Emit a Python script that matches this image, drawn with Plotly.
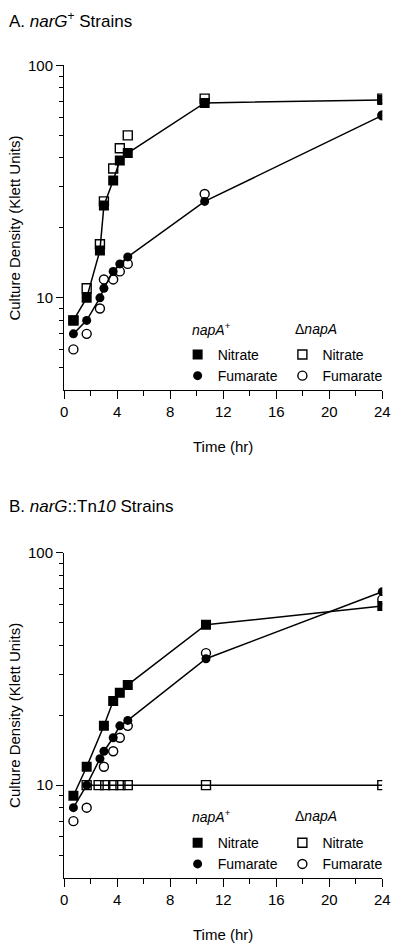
import plotly.graph_objects as go

# ---------------- data ----------------
# Panel A: narG+ strains
a_time = [0.7, 1.7, 2.7, 3.0, 3.7, 4.2, 4.8, 10.6, 24]
a_napA_nitrate = [8, 10, 16, 25, 32, 39, 42, 69, 71]
a_napA_fumarate = [7, 8, 10, 11, 13, 14, 15, 26, 61]
a_dnapA_nitrate = [8, 11, 17, 26, 36, 44, 50, 72, 72]
a_dnapA_fumarate = [6, 7, 9, 12, 12, 13, 14, 28, 61]

# Panel B: narG::Tn10 strains
b_nit_time = [0.7, 1.7, 3.0, 3.7, 4.2, 4.8, 10.7, 24]
b_napA_nitrate = [9, 12, 18, 23, 25, 27, 49, 59]
b_fum_time = [0.7, 1.7, 2.7, 3.0, 3.7, 4.2, 4.8, 10.7, 24]
b_napA_fumarate = [8, 10, 13, 14, 16, 18, 19, 35, 68]
b_dnit_time = [1.7, 2.6, 3.1, 3.7, 4.25, 4.8, 10.7, 24]
b_dnapA_nitrate = [10, 10, 10, 10, 10, 10, 10, 10]
b_dfum_time = [0.7, 1.7, 3.0, 3.7, 4.2, 4.8, 10.7, 24]
b_dnapA_fumarate = [7, 8, 12, 14, 16, 18, 37, 63]

x_ticks = [0, 4, 8, 12, 16, 20, 24]
y_ticks = [10, 100]
y_minor = [5, 6, 7, 8, 9, 20, 30, 40, 50, 60, 70, 80, 90]

# ---------------- layout helpers ----------------
W, H = 400, 945
FONT = "Liberation Sans, Arial, Helvetica, sans-serif"


def px(x):
    return x / W


def py(y):
    return 1 - y / H


fig = go.Figure()


def add_panel(xa, ya, lines, opens, filleds, leg_plus, leg_delta):
    for (xs, ys) in lines:
        fig.add_trace(go.Scatter(x=xs, y=ys, mode="lines", xaxis=xa, yaxis=ya,
                                 line=dict(color="black", width=1.5),
                                 showlegend=False, hoverinfo="skip"))
    for (name, xs, ys, sym) in opens:
        fig.add_trace(go.Scatter(x=xs, y=ys, mode="markers", name=name, xaxis=xa, yaxis=ya,
                                 marker=dict(symbol=sym, size=9, color="black",
                                             line=dict(color="black", width=1.4)),
                                 legend=leg_delta, showlegend=True))
    for (name, xs, ys, sym) in filleds:
        fig.add_trace(go.Scatter(x=xs, y=ys, mode="markers", name=name, xaxis=xa, yaxis=ya,
                                 marker=dict(symbol=sym, size=10 if sym == "square" else 9,
                                             color="black", line=dict(width=0)),
                                 legend=leg_plus, showlegend=True))


add_panel("x", "y",
          lines=[(a_time, a_napA_nitrate), (a_time, a_napA_fumarate)],
          opens=[("Nitrate", a_time, a_dnapA_nitrate, "square-open"),
                 ("Fumarate", a_time, a_dnapA_fumarate, "circle-open")],
          filleds=[("Nitrate", a_time, a_napA_nitrate, "square"),
                   ("Fumarate", a_time, a_napA_fumarate, "circle")],
          leg_plus="legend", leg_delta="legend2")

add_panel("x2", "y2",
          lines=[(b_nit_time, b_napA_nitrate), (b_fum_time, b_napA_fumarate),
                 (b_dnit_time, b_dnapA_nitrate)],
          opens=[("Nitrate", b_dnit_time, b_dnapA_nitrate, "square-open"),
                 ("Fumarate", b_dfum_time, b_dnapA_fumarate, "circle-open")],
          filleds=[("Nitrate", b_nit_time, b_napA_nitrate, "square"),
                   ("Fumarate", b_fum_time, b_napA_fumarate, "circle")],
          leg_plus="legend3", leg_delta="legend4")

xdom = [px(62), px(390)]
ydomA = [py(385), py(57)]
ydomB = [py(877), py(549)]

common_x = dict(range=[0, 24], tickmode="array", tickvals=x_ticks,
                showline=True, linecolor="black", linewidth=1.3,
                ticks="outside", ticklen=8, tickwidth=1.3, tickcolor="black",
                minor=dict(dtick=2, ticks="outside", ticklen=5, tickwidth=1.3, tickcolor="black"),
                showgrid=False, zeroline=False,
                tickfont=dict(family=FONT, size=15, color="black"))
common_y = dict(type="log", range=[0.60206, 2], tickmode="array", tickvals=y_ticks,
                ticktext=["10", "100"],
                showline=True, linecolor="black", linewidth=1.3,
                ticks="outside", ticklen=7, tickwidth=1.3, tickcolor="black",
                minor=dict(tickmode="array", tickvals=y_minor, ticks="outside",
                           ticklen=4, tickwidth=1.3, tickcolor="black"),
                showgrid=False, zeroline=False,
                tickfont=dict(family=FONT, size=15, color="black"))

legend_common = dict(xanchor="left", yanchor="top", bgcolor="rgba(0,0,0,0)",
                     borderwidth=0, tracegroupgap=0,
                     font=dict(family=FONT, size=14, color="black"))

fig.update_layout(
    width=W, height=H,
    margin=dict(l=0, r=0, t=0, b=0),
    paper_bgcolor="white", plot_bgcolor="white",
    font=dict(family=FONT, color="black"),
    xaxis=dict(domain=xdom, anchor="y", **common_x),
    yaxis=dict(domain=ydomA, anchor="x", **common_y),
    xaxis2=dict(domain=xdom, anchor="y2", **common_x),
    yaxis2=dict(domain=ydomB, anchor="x2", **common_y),
    legend=dict(x=px(179), y=py(333), **legend_common),
    legend2=dict(x=px(287), y=py(333), **legend_common),
    legend3=dict(x=px(179), y=py(826), **legend_common),
    legend4=dict(x=px(287), y=py(826), **legend_common),
)

ann = []
# panel titles
ann.append(dict(text="A. <i>narG</i><sup>+</sup> Strains", x=px(3), y=py(11)))
ann.append(dict(text="B. <i>narG</i>::Tn<i>10</i> Strains", x=px(3), y=py(502)))
for a in ann:
    a.update(xref="paper", yref="paper", xanchor="left", yanchor="middle",
             showarrow=False, font=dict(family=FONT, size=17, color="black"))

# axis titles
for yc, xb in [(221, 442), (713, 934)]:
    ann.append(dict(text="Culture Density (Klett Units)", x=px(11), y=py(yc), textangle=-90,
                    xref="paper", yref="paper", xanchor="center", yanchor="middle",
                    showarrow=False, font=dict(family=FONT, size=15, color="black")))
    ann.append(dict(text="Time (hr)", x=px(226), y=py(xb),
                    xref="paper", yref="paper", xanchor="center", yanchor="middle",
                    showarrow=False, font=dict(family=FONT, size=15, color="black")))

# legend headers
for yh in [323, 815]:
    ann.append(dict(text="<i>napA</i><sup>+</sup>", x=px(192), y=py(yh),
                    xref="paper", yref="paper", xanchor="left", yanchor="middle",
                    showarrow=False, font=dict(family=FONT, size=14, color="black")))
    ann.append(dict(text="Δ<i>napA</i>", x=px(298), y=py(yh),
                    xref="paper", yref="paper", xanchor="left", yanchor="middle",
                    showarrow=False, font=dict(family=FONT, size=14, color="black")))

fig.update_layout(annotations=ann)

fig.write_html("out.html",
               config={"displayModeBar": False},
               post_script="document.body.style.margin='0px';document.body.style.overflow='hidden';")
